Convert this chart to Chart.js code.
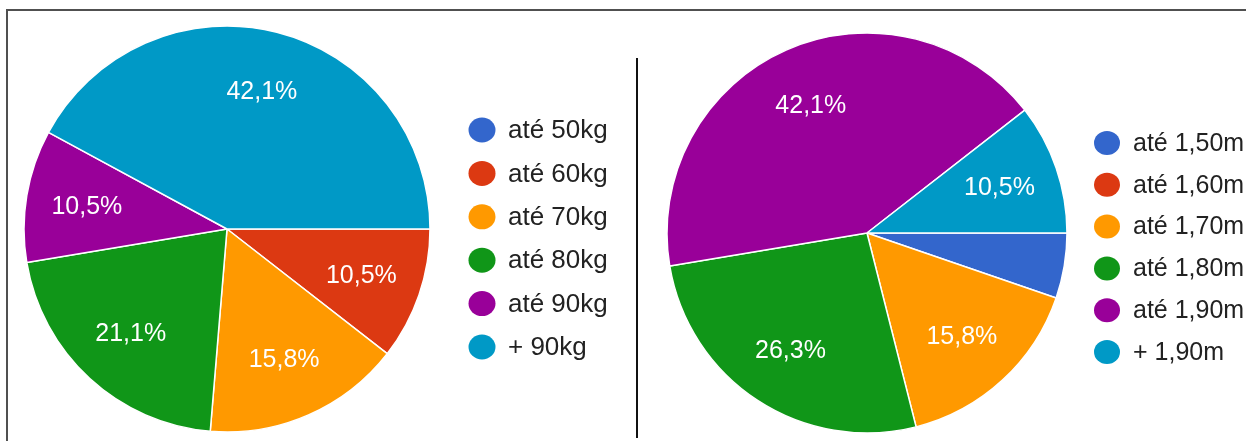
<!DOCTYPE html>
<html><head><meta charset="utf-8">
<script src="https://cdn.jsdelivr.net/npm/chart.js@4.4.1/dist/chart.umd.min.js"></script>
<style>
html,body{margin:0;padding:0;background:#fff;width:1246px;height:441px;overflow:hidden}
#frame{position:absolute;left:6px;top:9px;width:1300px;height:500px;border-top:2px solid #505050;border-left:2px solid #505050}
#sep{position:absolute;left:636px;top:58px;width:2px;height:380px;background:#111}
.box{position:absolute}
</style></head><body>
<div id="frame"></div><div id="sep"></div>
<div class="box" style="left:7px;top:17px;width:623px;height:424px"><canvas id="c1"></canvas></div>
<div class="box" style="left:647px;top:25px;width:599px;height:416px"><canvas id="c2"></canvas></div>
<script>
// ---- data ----
const weightCategories = ['até 50kg','até 60kg','até 70kg','até 80kg','até 90kg','+ 90kg'];
const weightCounts = [0, 2, 3, 4, 2, 8];
const heightCategories = ['até 1,50m','até 1,60m','até 1,70m','até 1,80m','até 1,90m','+ 1,90m'];
const heightCounts = [1, 0, 3, 5, 8, 2];
const sliceColors = ['#3366cc','#dc3912','#ff9900','#109618','#990099','#0099c6'];

const FONT = "'Liberation Sans', Arial, sans-serif";
const TAU = Math.PI * 2;

const sliceLabels = {
  id: 'sliceLabels',
  afterDatasetsDraw(chart, args, opts) {
    const ctx = chart.ctx;
    const meta = chart.getDatasetMeta(0);
    const data = chart.data.datasets[0].data;
    const total = data.reduce((a, b) => a + b, 0);
    ctx.save();
    ctx.font = opts.size + 'px ' + FONT;
    ctx.fillStyle = '#ffffff';
    ctx.textAlign = 'center';
    ctx.textBaseline = 'middle';
    meta.data.forEach((arc, i) => {
      const v = data[i];
      if (!v) return;
      const p = arc.getProps(['x','y','startAngle','endAngle','outerRadius'], true);
      const txt = (v / total * 100).toFixed(1).replace('.', ',') + '%';
      const w = ctx.measureText(txt).width, h = opts.size * 0.72;
      const mid = (p.startAngle + p.endAngle) / 2;
      const r = p.outerRadius * opts.ratio;
      const cx = p.x + Math.cos(mid) * r, cy = p.y + Math.sin(mid) * r;
      const span = p.endAngle - p.startAngle;
      let fits = true;
      [[-1,-1],[1,-1],[-1,1],[1,1]].forEach(([sx, sy]) => {
        const px = cx + sx * w / 2 - p.x, py = cy + sy * h / 2 - p.y;
        const a = Math.atan2(py, px);
        const d = (((a - p.startAngle) % TAU) + TAU) % TAU;
        const dist = Math.hypot(px, py);
        // perpendicular distance to both radial edges
        const e1 = dist * Math.sin(d), e2 = dist * Math.sin(span - d);
        if (d > span || e1 < opts.margin || e2 < opts.margin || dist > p.outerRadius - opts.margin) fits = false;
      });
      if (!fits) return;
      ctx.fillText(txt, cx, cy + 1);
    });
    ctx.restore();
  }
};

const sideLegend = {
  id: 'sideLegend',
  afterDraw(chart, args, opts) {
    const ctx = chart.ctx;
    const labels = chart.data.labels;
    const colors = chart.data.datasets[0].backgroundColor;
    const ca = chart.chartArea;
    const cy0 = (ca.top + ca.bottom) / 2 + opts.offsetY;
    const n = labels.length;
    ctx.save();
    ctx.font = opts.size + 'px ' + FONT;
    ctx.textBaseline = 'middle';
    ctx.textAlign = 'left';
    labels.forEach((lab, i) => {
      const yy = cy0 + (i - (n - 1) / 2) * opts.gap;
      ctx.beginPath();
      ctx.ellipse(ca.right + opts.dotX, yy, opts.rx, opts.ry, 0, 0, TAU);
      ctx.fillStyle = colors[i];
      ctx.fill();
      ctx.fillStyle = '#222222';
      ctx.fillText(lab, ca.right + opts.textX, yy + 1);
    });
    ctx.restore();
  }
};

function makePie(id, labels, values, pad, radius, legendOpts) {
  return new Chart(document.getElementById(id), {
    type: 'pie',
    data: {
      labels: labels,
      datasets: [{
        data: values,
        backgroundColor: sliceColors,
        borderColor: '#ffffff',
        borderWidth: 1.5,
        radius: radius
      }]
    },
    options: {
      responsive: true,
      maintainAspectRatio: false,
      devicePixelRatio: 1,
      animation: false,
      rotation: 90,
      layout: { padding: pad },
      plugins: {
        legend: { display: false },
        tooltip: { enabled: false },
        sliceLabels: { size: 25, ratio: 0.7, margin: 6 },
        sideLegend: legendOpts
      }
    },
    plugins: [sliceLabels, sideLegend]
  });
}

makePie('c1', weightCategories, weightCounts, { right: 183 }, 203,
  { size: 26, offsetY: 9.5, gap: 43.4, dotX: 35, textX: 61, rx: 13.5, ry: 12.5 });
makePie('c2', heightCategories, heightCounts, { right: 159 }, 200,
  { size: 25, offsetY: 14.5, gap: 41.8, dotX: 20, textX: 46, rx: 13, ry: 12 });
</script>
</body></html>
